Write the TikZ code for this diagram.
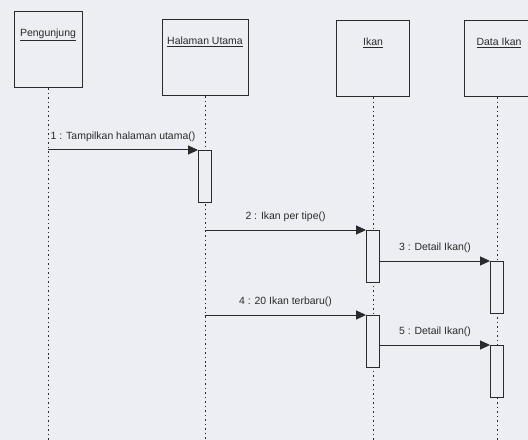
\documentclass[tikz,border=0pt]{standalone}
\usepackage{fontspec}
\setmainfont{Liberation Sans}
\usetikzlibrary{arrows.meta}
\definecolor{bgc}{HTML}{ECEEF3}
\definecolor{ink}{HTML}{2A2A2A}
\begin{document}
\begin{tikzpicture}[x=1bp,y=-1bp,
  obj/.style={draw=ink,line width=1pt,fill=bgc,minimum width=#1,minimum height=76bp,inner sep=0pt},
  lbl/.style={font=\fontsize{10.5}{12}\selectfont,text=ink,inner sep=1pt},
  act/.style={draw=ink,line width=0.9pt,fill=bgc,minimum width=13bp,minimum height=52bp,inner sep=0pt},
  life/.style={draw=ink,line width=0.9pt,dash pattern=on 1.5pt off 3pt},
  msg/.style={draw=ink,line width=1pt,-{Triangle[length=10bp,width=9bp]}}]
\fill[bgc] (0,0) rectangle (528,440);
\useasboundingbox (0,0) rectangle (528,440);
% objects
\node[obj=68bp] (p) at (48,50) {};
\node[lbl,anchor=north] at (p.north) [yshift=-16bp] {\underline{Pengunjung}};
\node[obj=86bp] (h) at (205,58) {};
\node[lbl,anchor=north] at (h.north) [yshift=-16bp] {\underline{Halaman Utama}};
\node[obj=73bp] (i) at (373,59) {};
\node[lbl,anchor=north] at (i.north) [yshift=-16bp] {\underline{Ikan}};
\node[obj=70bp] (d) at (499,59) {};
\node[lbl,anchor=north] at (d.north) [yshift=-16bp] {\underline{Data Ikan}};
% lifelines
\coordinate (pe) at (48,440);
\coordinate (he) at (205,440);
\coordinate (ie) at (373,440);
\coordinate (de) at (497,440);
\draw[life] (p.south) -- (pe);
\draw[life] (h.south) -- (he);
\draw[life] (i.south) -- (ie);
\draw[life] (d.south -| de) -- (de);
% activations
\node[act,anchor=north] (a1) at (205,150) {};
\node[act,anchor=north] (a2) at (373,230) {};
\node[act,anchor=north] (a3) at (497,261) {};
\node[act,anchor=north] (a4) at (373,315) {};
\node[act,anchor=north] (a5) at (497,345) {};
% messages
\coordinate (s1) at (48,150);
\draw[msg] (s1) -- (a1.north west) node[lbl,midway,above=7bp] {1 : Tampilkan halaman utama()};
\coordinate (s2) at (205,230);
\draw[msg] (s2) -- (a2.north west) node[lbl,midway,above=7bp] {2 : Ikan per tipe()};
\draw[msg] (a2.east |- a3.north) -- (a3.north west) node[lbl,midway,above=7bp] {3 : Detail Ikan()};
\coordinate (s4) at (205,315);
\draw[msg] (s4) -- (a4.north west) node[lbl,midway,above=7bp] {4 : 20 Ikan terbaru()};
\draw[msg] (a4.east |- a5.north) -- (a5.north west) node[lbl,midway,above=7bp] {5 : Detail Ikan()};
\end{tikzpicture}
\end{document}
